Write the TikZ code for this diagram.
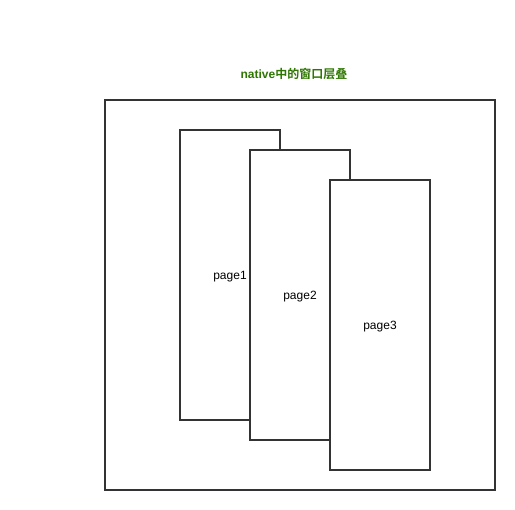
\documentclass[tikz,border=0pt]{standalone}
\usepackage{fontspec}
\setmainfont{Liberation Sans}
\newfontfamily\cjk{Noto Sans CJK SC}[BoldFont=* Bold]
\definecolor{titlegreen}{HTML}{2D7600}
\definecolor{linegray}{HTML}{333333}
\tikzset{
  pagebox/.style={draw=linegray, line width=1.8pt, fill=white, minimum width=100pt, minimum height=290pt, inner sep=0pt, font=\fontsize{12pt}{14pt}\selectfont},
  outerbox/.style={draw=linegray, line width=1.8pt, minimum width=390pt, minimum height=390pt, inner sep=0pt},
}
\newcommand{\lowered}[1]{\raisebox{-2pt}[\height][\depth]{#1}}
\begin{document}
\begin{tikzpicture}[x=1pt,y=-1pt]
\useasboundingbox (0,0) rectangle (515,510);
\node[outerbox] (outer) at (300,295) {};
\node[font=\fontsize{12pt}{14pt}\selectfont\bfseries, text=titlegreen] (title) at (294,74) {native{\cjk\bfseries 中的窗口层叠}};
\node[pagebox] (p1) at (230,275) {\lowered{page1}};
\node[pagebox] (p2) at (300,295) {\lowered{page2}};
\node[pagebox] (p3) at (380,325) {\lowered{page3}};
\end{tikzpicture}
\end{document}
